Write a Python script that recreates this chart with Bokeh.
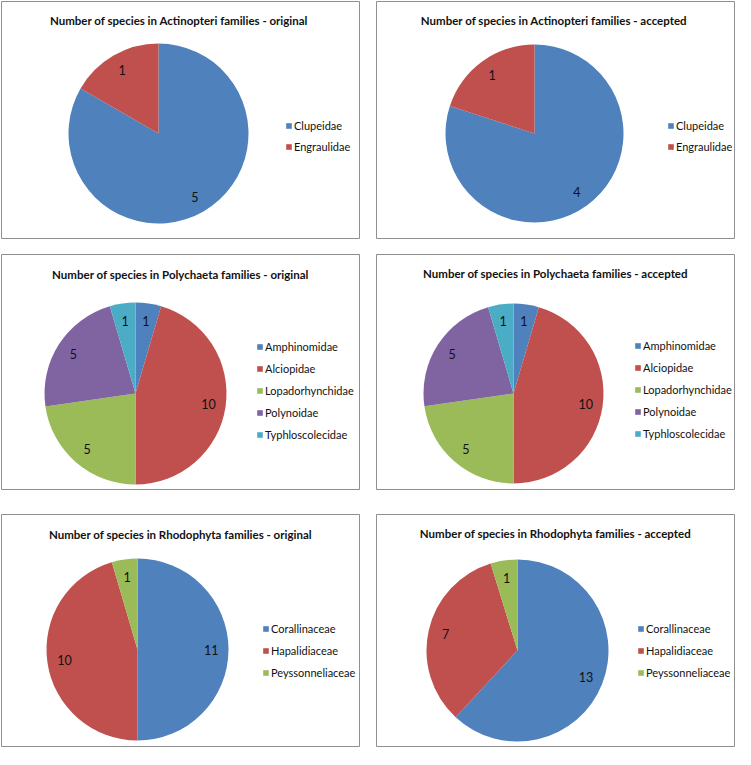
import math
from bokeh.plotting import figure
from bokeh.models import Range1d, Legend, LegendItem, Label, ColumnDataSource, Spacer
from bokeh.layouts import row, column
from bokeh.core.properties import value
from bokeh.embed import file_html
from bokeh.resources import INLINE

# ---------------- data ----------------
actin_families = ["Clupeidae", "Engraulidae"]
actin_original = [5, 1]
actin_accepted = [4, 1]

poly_families = ["Amphinomidae", "Alciopidae", "Lopadorhynchidae", "Polynoidae", "Typhloscolecidae"]
poly_original = [1, 10, 5, 5, 1]
poly_accepted = [1, 10, 5, 5, 1]

rhodo_families = ["Corallinaceae", "Hapalidiaceae", "Peyssonneliaceae"]
rhodo_original = [11, 10, 1]
rhodo_accepted = [13, 7, 1]

titles = [
    "Number of species in Actinopteri  families - original",
    "Number of species in Actinopteri  families - accepted",
    "Number of species in Polychaeta families - original",
    "Number of species in Polychaeta families - accepted",
    "Number of species in Rhodophyta families - original",
    "Number of species in Rhodophyta families - accepted",
]

palette = ["#4F81BD", "#C0504D", "#9BBB59", "#8064A2", "#4BACC6"]

FONT = "Lato"


def pie_panel(title, names, vals, W, H, cx, cy, R, leg_x, leg_y0, leg_step, title_y):
    fw, fh = W - 2, H - 2
    p = figure(width=W, height=H, x_range=Range1d(0, fw), y_range=Range1d(0, fh),
               toolbar_location=None, output_backend="svg",
               min_border_left=1, min_border_right=1, min_border_top=1, min_border_bottom=1)
    p.axis.visible = False
    p.xgrid.visible = False
    p.ygrid.visible = False
    p.outline_line_color = "#8f8f8f"
    p.outline_line_width = 1
    p.background_fill_color = "white"
    p.border_fill_color = "white"

    total = float(sum(vals))
    starts, ends, lx, ly = [], [], [], []
    acc = 0.0
    for v in vals:
        s = math.pi / 2 - 2 * math.pi * acc / total
        e = math.pi / 2 - 2 * math.pi * (acc + v) / total
        starts.append(s)
        ends.append(e)
        m = (s + e) / 2
        lx.append(cx + 0.81 * R * math.cos(m))
        ly.append((fh - cy) + 0.81 * R * math.sin(m))
        acc += v
    src = ColumnDataSource(dict(
        name=names, val=vals, txt=[str(v) for v in vals],
        color=palette[:len(vals)], start=starts, end=ends, lx=lx, ly=ly,
        x=[cx] * len(vals), y=[fh - cy] * len(vals)))
    r = p.wedge(x="x", y="y", radius=R, start_angle="start", end_angle="end",
                direction="clock", fill_color="color", line_color=None, source=src)
    p.text(x="lx", y="ly", text="txt", source=src, text_align="center",
           text_baseline="middle", text_font=value(FONT), text_font_size="12.5px",
           text_color="#111111")

    items = [LegendItem(label=n, renderers=[r], index=i) for i, n in enumerate(names)]
    item_h = leg_step - 2
    n = len(names)
    total_h = n * item_h + (n - 1) * 2
    top = leg_y0 - item_h / 2.0
    bottom = fh - (top + total_h)
    leg = Legend(items=items, location=(leg_x - 1, bottom), orientation="vertical",
                 glyph_width=7, glyph_height=7, label_height=item_h, spacing=2,
                 label_standoff=2, padding=0, margin=0,
                 label_text_font=FONT, label_text_font_size="11px",
                 label_text_color="#111111", border_line_alpha=0,
                 background_fill_alpha=0)
    p.add_layout(leg, "center")

    p.add_layout(Label(x=fw / 2, y=fh - title_y, text=title, text_align="center",
                       text_baseline="middle", text_font=FONT, text_font_style="bold",
                       text_font_size="11.5px", text_color="#111111"))
    return p


W = 360
p1 = pie_panel(titles[0], actin_families, actin_original, W, 239, 157, 132, 90, 285, 124, 21, 19)
p2 = pie_panel(titles[1], actin_families, actin_accepted, W, 239, 158, 132, 89, 292, 124, 21, 19)
p3 = pie_panel(titles[2], poly_families, poly_original, W, 237, 134, 139, 91, 256, 92, 22, 20)
p4 = pie_panel(titles[3], poly_families, poly_accepted, W, 237, 137, 139, 90, 259, 91, 22, 19)
p5 = pie_panel(titles[4], rhodo_families, rhodo_original, W, 234, 136, 135, 91, 262, 114, 22, 20)
p6 = pie_panel(titles[5], rhodo_families, rhodo_accepted, W, 234, 141, 136, 91, 262, 114, 22, 19)

layout = column(
    row(p1, Spacer(width=15), p2),
    Spacer(height=14),
    row(p3, Spacer(width=15), p4),
    Spacer(height=23),
    row(p5, Spacer(width=15), p6),
)

open("out.html", "w").write(file_html(layout, INLINE))
